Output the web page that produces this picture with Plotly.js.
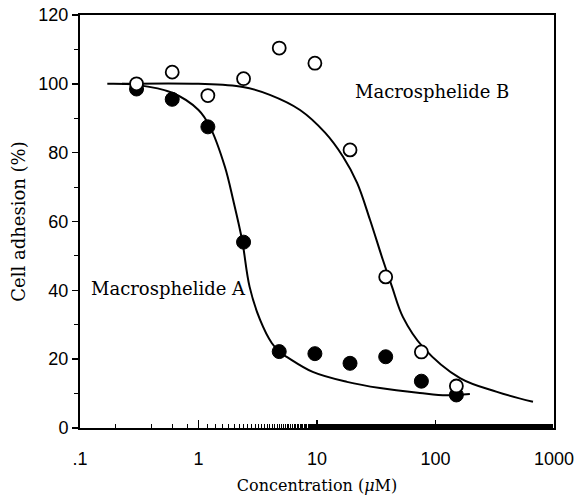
<!DOCTYPE html>
<html>
<head>
<meta charset="utf-8">
<script src="https://cdn.plot.ly/plotly-3.0.1.min.js"></script>
<style>html,body{margin:0;padding:0;background:#fff;}#chart{width:578px;height:497px;}</style>
</head>
<body>
<div id="chart"></div>
<script>
// Measured concentrations (uM)
const concentrations = [0.3, 0.6, 1.2, 2.4, 4.8, 9.6, 19, 38, 76, 150];
// Cell adhesion (%) measurements
const adhesionA = [98.5, 95.5, 87.5, 54, 22.2, 21.6, 18.8, 20.7, 13.6, 9.6];
const adhesionB = [100, 103.4, 96.6, 101.5, 110.4, 106, 80.8, 43.9, 22.1, 12.2];

// Fitted curves
const curveAx = [0.17, 0.3, 0.6, 1.0, 1.25, 1.67, 1.96, 2.33, 2.7, 3.31, 4.15, 4.87, 5.6, 9.2, 17.9, 34, 73.8, 124, 195];
const curveAy = [100, 99.7, 97.4, 92.4, 87.5, 75.9, 66.3, 54.7, 41, 31.4, 24.7, 22, 20.6, 16.3, 13.4, 11.6, 10.2, 9.5, 9.9];
const curveBx = [0.226, 1.0, 2.37, 4.0, 7.19, 11.7, 16.6, 21.8, 28, 36, 43, 53, 78.4, 161, 330, 665];
const curveBy = [100, 100, 99.1, 96.8, 92.4, 85.8, 78.8, 71.2, 60.5, 48.8, 41, 32.3, 23.5, 14.5, 10.5, 7.6];

const xTickVals = [0.1, 1, 10, 100, 1000];
const xTickText = ['.1', '1', '10', '100', '1000'];
const yTickVals = [0, 20, 40, 60, 80, 100, 120];

const labelA = 'Macrosphelide A';
const labelB = 'Macrosphelide B';

const serif = '"DejaVu Serif", "Liberation Serif", serif';
const sans = '"Liberation Sans", Arial, sans-serif';

const traces = [
  {x: curveAx, y: curveAy, mode: 'lines', line: {color: '#000', width: 2, shape: 'spline', smoothing: 1}, hoverinfo: 'skip'},
  {x: curveBx, y: curveBy, mode: 'lines', line: {color: '#000', width: 2, shape: 'spline', smoothing: 1}, hoverinfo: 'skip'},
  {x: concentrations, y: adhesionA, mode: 'markers', name: labelA,
   marker: {symbol: 'circle', size: 14, color: '#000', line: {color: '#000', width: 1}}},
  {x: concentrations, y: adhesionB, mode: 'markers', name: labelB,
   marker: {symbol: 'circle', size: 13, color: '#fff', line: {color: '#000', width: 1.8}}}
];

const layout = {
  width: 578, height: 497,
  margin: {l: 80, r: 24, t: 15, b: 69},
  paper_bgcolor: '#fff', plot_bgcolor: '#fff',
  showlegend: false,
  xaxis: {
    type: 'log', range: [-1, 3],
    tickvals: xTickVals, ticktext: xTickText,
    ticks: 'inside', ticklen: 8, tickwidth: 1.5, tickcolor: '#000',
    minor: {ticks: 'inside', ticklen: 4, tickwidth: 1, tickcolor: '#000', showgrid: false},
    showline: true, linecolor: '#000', linewidth: 2, mirror: true,
    showgrid: false, zeroline: false,
    tickfont: {family: sans, size: 18, color: '#000'},
    ticklabelstandoff: 13,
    title: {text: 'Concentration (<i>μ</i>M)', font: {family: serif, size: 16, color: '#000'}, standoff: 12}
  },
  yaxis: {
    range: [0, 120],
    tickvals: yTickVals,
    ticks: 'outside', ticklen: 6, tickwidth: 1.5, tickcolor: '#000',
    minor: {dtick: 10, ticks: 'outside', ticklen: 4, tickwidth: 1, tickcolor: '#000', showgrid: false},
    showline: true, linecolor: '#000', linewidth: 2, mirror: true,
    showgrid: false, zeroline: false,
    tickfont: {family: sans, size: 18, color: '#000'},
    title: {text: 'Cell adhesion (%)', font: {family: serif, size: 18, color: '#000'}, standoff: 8}
  },
  annotations: [
    {x: Math.log10(93.5), y: 97.7, xref: 'x', yref: 'y', text: labelB, showarrow: false,
     font: {family: serif, size: 18, color: '#000'}},
    {x: Math.log10(0.563), y: 40.4, xref: 'x', yref: 'y', text: labelA, showarrow: false,
     font: {family: serif, size: 18, color: '#000'}}
  ]
};

Plotly.newPlot('chart', traces, layout, {displayModeBar: false, staticPlot: true});
</script>
</body>
</html>
